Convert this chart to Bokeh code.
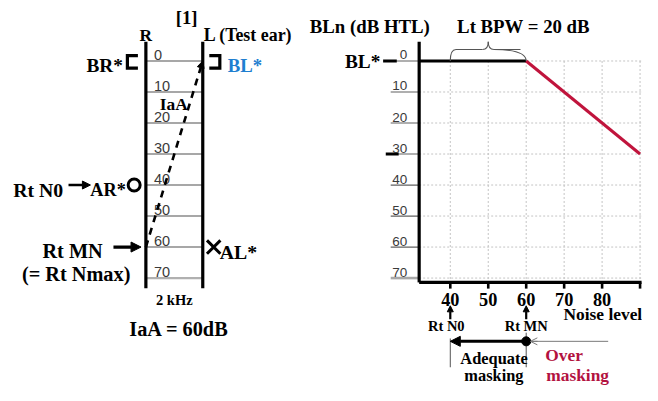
from bokeh.plotting import figure
from bokeh.models import Range1d, Arrow, NormalHead, OpenHead
from bokeh.core.properties import value
from bokeh.embed import file_html
from bokeh.resources import INLINE

# ---------------- data ----------------
# left panel: masking ladder (2 kHz)
ladder_levels = [0, 10, 20, 30, 40, 50, 60, 70]
ladder_labels = ["0", "10", "20", "30", "40", "50", "60", "70"]
ear_pos = {"R": 0, "L": 1}
br_level = 0      # BR* bone conduction right
bl_level = 0      # BL* bone conduction left (test ear)
ar_level = 40     # AR* air conduction right
al_level = 60     # AL* air conduction left
iaa_from_level = 60   # noise on R
iaa_to_level = 0      # reaching L
iaa_db = 60

# right panel: BLn vs noise level
noise_ticks = [40, 50, 60, 70, 80, 90]
noise_tick_labels = ["40", "50", "60", "70", "80", ""]
bln_ticks = [0, 10, 20, 30, 40, 50, 60, 70]
bln_tick_labels = ["0", "10", "20", "30", "40", "50", "60", "70"]
plateau_noise = [31.8, 60]
plateau_bln = [0, 0]
over_noise = [60, 90]
over_bln = [0, 30]
marked_levels = [0, 30]
rt_n0 = 40
rt_mn = 60
bpw = [40, 60]

# ---------------- layout ----------------
REF_W, REF_H = 658, 401
FS = 0.965
TY = -4          # text baseline correction (screen px)
RED = "#b3123f"
BLUE = "#1f7fd0"
SERIF = value("Liberation Serif")
NARROW = value("Liberation Sans Narrow, Liberation Sans")

p = figure(width=642, height=385, x_range=Range1d(0, REF_W), y_range=Range1d(REF_H, 0),
           output_backend="svg", toolbar_location=None, x_axis_location=None,
           y_axis_location=None, min_border=0, outline_line_color=None)
p.grid.visible = False
p.background_fill_color = "white"
p.border_fill_color = "white"

NX0, NPX = 461, 3.89
p.extra_x_ranges["noise"] = Range1d(40 - NX0 / NPX, 40 + (REF_W - NX0) / NPX)
LY0, LPX = 63, 3.23
p.extra_y_ranges["lvl"] = Range1d((REF_H - LY0) / LPX, -LY0 / LPX)
EX0, EPX = 149, 58.3
p.extra_x_ranges["ear"] = Range1d(-EX0 / EPX, (REF_W - EX0) / EPX)


def txt(x, y, s, size, align="left", color="black", font=SERIF, style="bold",
        xr="default", yr="default", xo=0, yo=0):
    p.text(x=[x], y=[y], text=[s], text_font=font, text_font_style=style,
           text_font_size=f"{size * FS:.1f}px", text_align=align,
           text_baseline="alphabetic", text_color=color,
           x_range_name=xr, y_range_name=yr, x_offset=xo, y_offset=yo + TY)


def arrow(x0, y0, x1, y1, w, head, xr="default", yr="default", color="black",
          dash="solid", open_head=False):
    if open_head:
        h = OpenHead(size=head, line_color=color, line_width=1)
    else:
        h = NormalHead(size=head, fill_color=color, line_color=color, line_width=1)
    p.add_layout(Arrow(end=h, x_start=x0, y_start=y0, x_end=x1, y_end=y1,
                       line_width=w, line_color=color, line_dash=dash,
                       x_range_name=xr, y_range_name=yr))


R, L = ear_pos["R"], ear_pos["L"]

# ---------- left panel ----------
LAD_TOP, LAD_BOT = -6.2, 73.3
p.multi_line(xs=[[R, L]] * (len(ladder_levels) - 1), ys=[[v, v] for v in ladder_levels[:-1]],
             x_range_name="ear", y_range_name="lvl", line_color="#8a8a8a", line_width=1.5)
p.line(x=[R, L], y=[ladder_levels[-1]] * 2, x_range_name="ear", y_range_name="lvl",
       line_color="#b0b0b0", line_width=2.2)
p.multi_line(xs=[[R, R], [L, L]], ys=[[LAD_TOP, LAD_BOT]] * 2, x_range_name="ear",
             y_range_name="lvl", line_color="black", line_width=3.2)
p.text(x=[R] * len(ladder_levels), y=ladder_levels, text=ladder_labels,
       x_range_name="ear", y_range_name="lvl", text_font=NARROW,
       text_font_size=f"{15 * FS:.1f}px", text_color="#3a3a3a",
       text_baseline="alphabetic", x_offset=8, y_offset=-2 + TY)

# IaA dashed arrow
arrow(R, iaa_from_level, L, iaa_to_level, 2.6, 7, xr="ear", yr="lvl", dash="7 6")

# brackets
p.multi_line(xs=[[R - 0.14, R - 0.325, R - 0.325, R - 0.14],
                 [L + 0.115, L + 0.30, L + 0.30, L + 0.115]],
             ys=[[br_level - 1.7, br_level - 1.7, br_level + 2.3, br_level + 2.3],
                 [bl_level - 1.7, bl_level - 1.7, bl_level + 2.3, bl_level + 2.3]],
             x_range_name="ear", y_range_name="lvl", line_color="black",
             line_width=3.2, line_join="miter")
p.scatter(x=[R - 0.206], y=[ar_level], marker="circle", size=12, line_width=3,
          line_color="black", fill_color="white", x_range_name="ear", y_range_name="lvl")
p.scatter(x=[L + 0.192], y=[al_level], marker="x", size=19, line_width=3,
          line_color="black", x_range_name="ear", y_range_name="lvl")

arrow(R - 1.36, ar_level, R - 0.975, ar_level, 2.4, 8, xr="ear", yr="lvl")
arrow(R - 0.57, al_level, R - 0.085, al_level, 3.2, 10, xr="ear", yr="lvl")

txt(179.5, 22, "[1]", 19.5)
txt(R, 40, "R", 18, align="center", xr="ear")
txt(L, 40, "L (Test ear)", 18.5, xr="ear", xo=1)
txt(0.49, 111.5, "IaA", 18, align="center", xr="ear")
txt(R, 71.5, "BR*", 20, align="right", xr="ear", xo=-23)
txt(L, 71.5, "BL*", 19.5, color=BLUE, xr="ear", xo=25)
txt(13, 201.5, "Rt N0", 20.5)
txt(R, 201.5, "AR*", 19, align="right", xr="ear", xo=-20)
txt(L, 266.5, "AL*", 20.5, xr="ear", xo=17)
txt(43, 265, "Rt MN", 21)
txt(22, 289, "(= Rt Nmax)", 21)
txt(0.5, 316.5, "2 kHz", 15, align="center", xr="ear")
txt(183, 346.5, f"IaA = {iaa_db}dB", 21, align="center")

# ---------- right panel ----------
AX_L, AX_R, AX_T, AX_B = 31.8, 90.4, -6.2, 71.4
TICK_L = 24.3

# grid
p.multi_line(xs=[[n, n] for n in noise_ticks], ys=[[bln_ticks[0], AX_B]] * len(noise_ticks),
             x_range_name="noise", y_range_name="lvl", line_color="#c4c4c4",
             line_width=1, line_dash="2 2")
p.multi_line(xs=[[AX_L, AX_R]] * len(bln_ticks), ys=[[v, v] for v in bln_ticks],
             x_range_name="noise", y_range_name="lvl", line_color="#c4c4c4",
             line_width=1, line_dash="2 2")

# y ticks (extended lines) and labels
p.multi_line(xs=[[TICK_L, AX_L]] * (len(bln_ticks) - 1), ys=[[v, v] for v in bln_ticks[:-1]],
             x_range_name="noise", y_range_name="lvl", line_color="#606060", line_width=1.2)
p.line(x=[TICK_L, AX_L], y=[bln_ticks[-1]] * 2, x_range_name="noise", y_range_name="lvl",
       line_color="#a8a8a8", line_width=2.6)
p.multi_line(xs=[[22.3, 25.9], [23.0, 26.4]], ys=[[v, v] for v in marked_levels],
             x_range_name="noise", y_range_name="lvl", line_color="black", line_width=3)
p.text(x=[AX_L] * len(bln_ticks), y=bln_ticks, text=bln_tick_labels,
       x_range_name="noise", y_range_name="lvl", text_font=NARROW,
       text_font_size=f"{14 * FS:.1f}px", text_color="#3a3a3a", text_align="right",
       text_baseline="alphabetic", x_offset=-12, y_offset=-2 + TY)

# curve
p.line(x=plateau_noise, y=plateau_bln, x_range_name="noise", y_range_name="lvl",
       line_color="black", line_width=3)
p.line(x=over_noise, y=over_bln, x_range_name="noise", y_range_name="lvl",
       line_color="#c0143c", line_width=3)

# axes
p.line(x=[AX_L, AX_L], y=[AX_T, AX_B], x_range_name="noise", y_range_name="lvl",
       line_color="black", line_width=3.2)
p.line(x=[AX_L, AX_R], y=[AX_B, AX_B], x_range_name="noise", y_range_name="lvl",
       line_color="black", line_width=3.2)
p.multi_line(xs=[[n, n] for n in noise_ticks], ys=[[AX_B, AX_B + 2.0]] * len(noise_ticks),
             x_range_name="noise", y_range_name="lvl", line_color="black", line_width=2.6)
p.text(x=noise_ticks, y=[AX_B] * len(noise_ticks), text=noise_tick_labels,
       x_range_name="noise", y_range_name="lvl", text_font=SERIF, text_font_style="bold",
       text_font_size=f"{19 * FS:.1f}px", text_align="center", text_baseline="alphabetic",
       y_offset=21 + TY)
txt(577, 331, "Noise level", 18)

# brace over BPW
b0, b1 = bpw
mid = (b0 + b1) / 2
p.quadratic(x0=[b0, mid + 1.5], y0=[0, -3.7], x1=[b0 + 1.5, b1], y1=[-3.7, 0],
            cx=[b0, b1], cy=[-3.7, -3.7], x_range_name="noise", y_range_name="lvl",
            line_color="#555555", line_width=1.1)
p.quadratic(x0=[mid - 1.5, mid], y0=[-3.7, -6.2], x1=[mid, mid + 1.5], y1=[-6.2, -3.7],
            cx=[mid, mid], cy=[-3.7, -3.7], x_range_name="noise", y_range_name="lvl",
            line_color="#555555", line_width=1.1)
p.multi_line(xs=[[b0 + 1.5, mid - 1.5], [mid + 1.5, b1 - 1.5]], ys=[[-3.7, -3.7]] * 2,
             x_range_name="noise", y_range_name="lvl", line_color="#555555", line_width=1.1)

txt(317, 31, "BLn (dB HTL)", 19.5)
txt(468, 31, f"Lt BPW = {b1 - b0} dB", 19.5)
txt(353, 68, "BL*", 20)

# arrows from noise axis
for n in (rt_n0, rt_mn):
    arrow(n, 332, n, 318, 2.2, 6, xr="noise")
txt(rt_n0, 343, "Rt N0", 15, align="center", xr="noise", xo=-4)
txt(rt_mn, 343, "Rt MN", 15, align="center", xr="noise")

# adequate masking range
p.line(x=[rt_n0, 81.6], y=[355, 355], x_range_name="noise", line_color="#7a7a7a", line_width=1)
p.multi_line(xs=[[rt_n0, rt_n0], [rt_mn, rt_mn]], ys=[[352, 382], [346, 382]],
             x_range_name="noise", line_color="#555555", line_width=1)
arrow(rt_mn, 355, rt_n0, 355, 3, 10, xr="noise")
arrow(rt_mn + 3.0, 355, rt_mn + 1.1, 355, 1, 7, xr="noise", color="#7a7a7a", open_head=True)
p.scatter(x=[rt_mn], y=[355], size=9, color="black", x_range_name="noise")

txt(rt_n0, 377, "Adequate", 17, xr="noise", xo=10)
txt(rt_n0, 394.5, "masking", 17, xr="noise", xo=14)
txt(rt_mn, 373, "Over", 18, color=RED, xr="noise", xo=19)
txt(rt_mn, 394, "masking", 18, color=RED, xr="noise", xo=20)

open("out.html", "w").write(file_html(p, INLINE))
